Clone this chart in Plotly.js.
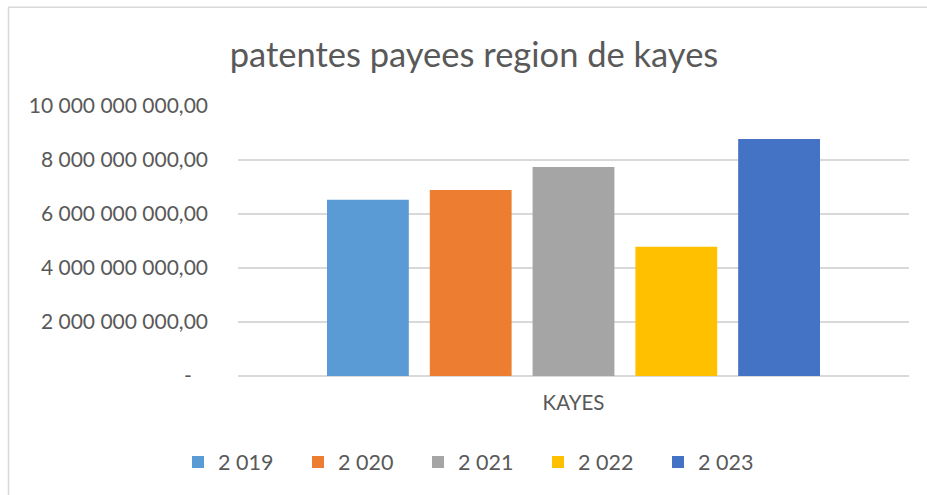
<!DOCTYPE html>
<html>
<head>
<meta charset="utf-8">
<script src="https://cdn.plot.ly/plotly-3.0.1.min.js"></script>
<style>html,body{margin:0;padding:0;background:#fff;}#chart{width:927px;height:495px;}</style>
</head>
<body>
<div id="chart"></div>
<script>
const category = ['KAYES'];
const seriesNames = ['2 019', '2 020', '2 021', '2 022', '2 023'];
const seriesValues = [6525000000, 6890000000, 7745000000, 4790000000, 8780000000];
const seriesColors = ['#5B9BD5', '#ED7D31', '#A5A5A5', '#FFC000', '#4472C4'];
const tickVals = [0, 2000000000, 4000000000, 6000000000, 8000000000, 10000000000];
const tickText = ['-\u00a0\u00a0\u00a0', '2 000 000 000,00', '4 000 000 000,00', '6 000 000 000,00', '8 000 000 000,00', '10 000 000 000,00'];

const fontFam = 'Lato, "Open Sans", sans-serif';
const traces = seriesNames.map((n, i) => ({
  type: 'bar',
  name: n,
  x: category,
  y: [seriesValues[i]],
  marker: {color: seriesColors[i]},
  hoverinfo: 'none'
}));

const layout = {
  width: 927, height: 495,
  margin: {l: 238, r: 18, t: 106, b: 118.5, pad: 0},
  paper_bgcolor: '#ffffff', plot_bgcolor: '#ffffff',
  font: {family: fontFam, color: '#595959', size: 21},
  title: {text: 'patentes payees region de kayes', font: {size: 34.5, color: '#595959', family: fontFam}, x: 474/927, xref: 'container', xanchor: 'center', y: 1 - 55/495, yref: 'container', yanchor: 'middle'},
  barmode: 'group',
  bargap: 0.234,
  bargroupgap: 0.204,
  xaxis: {showgrid: false, showline: false, zeroline: false, ticks: '', tickfont: {size: 20.5, color: '#595959'}, ticklabelstandoff: 12},
  yaxis: {range: [0, 10000000000], tickvals: tickVals, ticktext: tickText, showgrid: true, gridcolor: '#d9d9d9', gridwidth: 1.3, zeroline: true, zerolinecolor: '#d9d9d9', zerolinewidth: 1.3, showline: false, ticks: '', ticklabelstandoff: 29, tickfont: {size: 21, color: '#595959'}, fixedrange: true},
  showlegend: true,
  legend: {orientation: 'h', xref: 'container', yref: 'container', x: 178/927, xanchor: 'left', y: 1 - 462/495, yanchor: 'middle', font: {size: 21.5, color: '#595959'}, entrywidth: 75, entrywidthmode: 'pixels', itemwidth: 30, traceorder: 'normal'},
  shapes: [
    {type: 'line', xref: 'paper', yref: 'paper', x0: (8-238)/671, x1: (935-238)/671, y0: (376.5-7)/270.5, y1: (376.5-7)/270.5, line: {color: '#d9d9d9', width: 1.5}},
    {type: 'line', xref: 'paper', yref: 'paper', x0: (8.5-238)/671, x1: (8.5-238)/671, y0: (376.5-7)/270.5, y1: (376.5-505)/270.5, line: {color: '#d9d9d9', width: 1.5}}
  ]
};

Plotly.newPlot('chart', traces, layout, {displayModeBar: false, staticPlot: true});
</script>
</body>
</html>
